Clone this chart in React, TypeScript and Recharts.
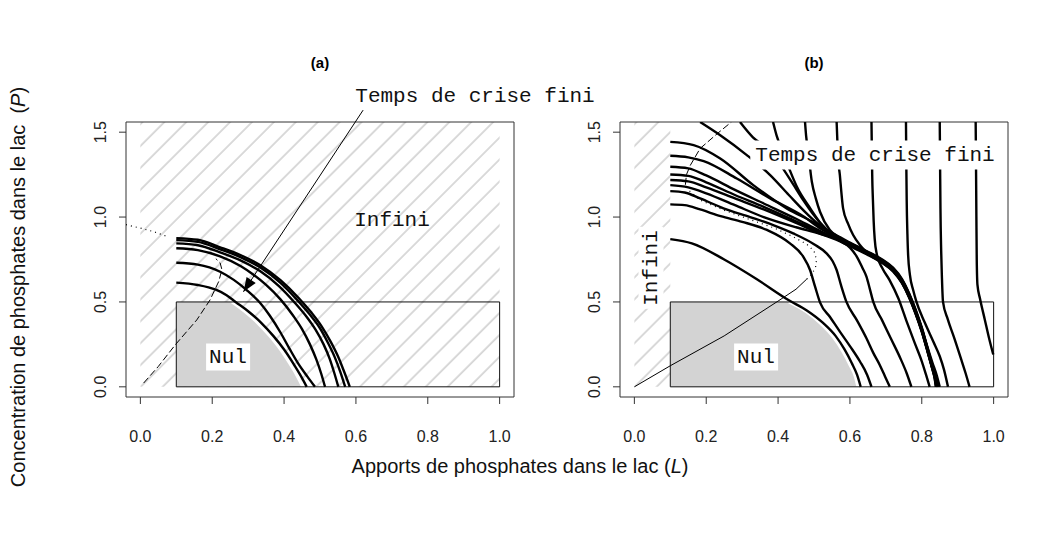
import { ComposedChart, Line, Area, XAxis, YAxis, ReferenceArea, ReferenceLine, ReferenceDot } from 'recharts';

// axes
const xTicks = [0, 0.2, 0.4, 0.6, 0.8, 1.0];
const yTicks = [0, 0.5, 1.0, 1.5];
const xDomain = [-0.04, 1.04];
const yDomain = [-0.06, 1.56];

// panel (a) : trajectoires (L, P)
const a1 = [[0.1, 0.876], [0.16, 0.866], [0.222, 0.822], [0.28, 0.775], [0.333, 0.718], [0.39, 0.628], [0.44, 0.525], [0.475, 0.44], [0.505, 0.355], [0.53, 0.265], [0.55, 0.18], [0.567, 0.09], [0.583, 0]];
const a2 = [[0.1, 0.864], [0.16, 0.854], [0.222, 0.81], [0.28, 0.763], [0.333, 0.704], [0.39, 0.612], [0.435, 0.515], [0.47, 0.43], [0.5, 0.345], [0.522, 0.26], [0.541, 0.175], [0.557, 0.085], [0.57, 0]];
const a3 = [[0.1, 0.845], [0.16, 0.834], [0.222, 0.792], [0.28, 0.743], [0.333, 0.682], [0.385, 0.595], [0.428, 0.5], [0.46, 0.42], [0.488, 0.335], [0.51, 0.25], [0.527, 0.165], [0.54, 0.08], [0.551, 0]];
const a4 = [[0.1, 0.816], [0.16, 0.805], [0.222, 0.768], [0.28, 0.71], [0.315, 0.66], [0.35, 0.6], [0.39, 0.515], [0.425, 0.42], [0.45, 0.34], [0.472, 0.25], [0.49, 0.16], [0.503, 0.08], [0.514, 0]];
const a5 = [[0.1, 0.731], [0.16, 0.72], [0.222, 0.678], [0.26, 0.63], [0.296, 0.57], [0.333, 0.495], [0.36, 0.42], [0.39, 0.32], [0.415, 0.225], [0.44, 0.135], [0.465, 0.06], [0.486, 0]];
const a6 = [[0.1, 0.614], [0.16, 0.6], [0.21, 0.572], [0.24, 0.54], [0.265, 0.5], [0.3, 0.445], [0.335, 0.38], [0.37, 0.3], [0.4, 0.22], [0.425, 0.14], [0.445, 0.07], [0.463, 0]];
const greyA = [[0.1, 0.5], [0.255, 0.5], [0.29, 0.445], [0.325, 0.38], [0.36, 0.3], [0.39, 0.22], [0.415, 0.14], [0.435, 0.07], [0.452, 0]];
const hatchA = [[0, 1.56], [1, 1.56]];
const dottedA = [[-0.04, 0.955], [0.0, 0.935], [0.04, 0.912], [0.075, 0.885]];
const dashedA = [[0.009, 0.022], [0.05, 0.12], [0.097, 0.247], [0.157, 0.394], [0.194, 0.512], [0.218, 0.62], [0.227, 0.69], [0.222, 0.73], [0.21, 0.755]];
const arrowA = [{ x: 0.62, y: 1.63 }, { x: 0.287, y: 0.56 }];

// panel (b)
const b1 = [[0.1, 0.87], [0.16, 0.845], [0.25, 0.75], [0.34, 0.635], [0.43, 0.51], [0.48, 0.45], [0.526, 0.375], [0.56, 0.3], [0.585, 0.22], [0.605, 0.14], [0.62, 0.07], [0.63, 0]];
const b2 = [[0.1, 1.075], [0.14, 1.07], [0.183, 1.045], [0.24, 1.005], [0.3, 0.972], [0.369, 0.924], [0.433, 0.845], [0.47, 0.767], [0.489, 0.688], [0.503, 0.59], [0.517, 0.496], [0.545, 0.41], [0.572, 0.325], [0.6, 0.24], [0.628, 0.149], [0.648, 0.07], [0.66, 0]];
const b3 = [[0.1, 1.153], [0.14, 1.145], [0.183, 1.11], [0.25, 1.05], [0.322, 1.0], [0.39, 0.95], [0.442, 0.904], [0.5, 0.84], [0.535, 0.786], [0.552, 0.74], [0.563, 0.688], [0.575, 0.6], [0.59, 0.502], [0.62, 0.39], [0.646, 0.286], [0.665, 0.2], [0.683, 0.129], [0.698, 0.06], [0.711, 0]];
const b4 = [[0.1, 1.188], [0.15, 1.175], [0.2, 1.14], [0.28, 1.07], [0.36, 1.0], [0.45, 0.94], [0.52, 0.9], [0.572, 0.86], [0.6, 0.82], [0.619, 0.767], [0.635, 0.7], [0.646, 0.649], [0.655, 0.58], [0.665, 0.5], [0.69, 0.39], [0.715, 0.28], [0.74, 0.17], [0.758, 0.08], [0.771, 0]];
const b5 = [[0.1, 1.218], [0.15, 1.21], [0.2, 1.175], [0.28, 1.11], [0.36, 1.045], [0.45, 0.965], [0.52, 0.9], [0.56, 0.868], [0.6, 0.828], [0.646, 0.782], [0.69, 0.73], [0.72, 0.68], [0.745, 0.61], [0.765, 0.525], [0.782, 0.435], [0.8, 0.325], [0.815, 0.215], [0.828, 0.115], [0.836, 0.05], [0.84, 0]];
const b6 = [[0.1, 1.251], [0.15, 1.243], [0.2, 1.205], [0.28, 1.13], [0.36, 1.06], [0.45, 0.975], [0.52, 0.908], [0.56, 0.874], [0.6, 0.832], [0.646, 0.786], [0.69, 0.735], [0.72, 0.685], [0.745, 0.615], [0.765, 0.53], [0.782, 0.44], [0.8, 0.33], [0.815, 0.22], [0.828, 0.12], [0.837, 0.05], [0.842, 0]];
const b7 = [[0.1, 1.296], [0.15, 1.287], [0.2, 1.245], [0.28, 1.16], [0.36, 1.08], [0.45, 0.99], [0.52, 0.915], [0.56, 0.878], [0.6, 0.836], [0.646, 0.79], [0.69, 0.738], [0.72, 0.69], [0.745, 0.62], [0.765, 0.535], [0.782, 0.445], [0.8, 0.335], [0.815, 0.225], [0.828, 0.125], [0.838, 0.055], [0.844, 0]];
const b8 = [[0.1, 1.361], [0.15, 1.352], [0.193, 1.33], [0.285, 1.227], [0.378, 1.11], [0.47, 1.005], [0.52, 0.93], [0.56, 0.884], [0.6, 0.84], [0.646, 0.793], [0.69, 0.742], [0.72, 0.694], [0.745, 0.625], [0.765, 0.54], [0.782, 0.45], [0.8, 0.34], [0.815, 0.23], [0.828, 0.13], [0.839, 0.06], [0.846, 0]];
const b9 = [[0.1, 1.443], [0.165, 1.424], [0.239, 1.345], [0.331, 1.188], [0.424, 1.051], [0.507, 0.96], [0.56, 0.89], [0.6, 0.846], [0.646, 0.797], [0.69, 0.746], [0.72, 0.698], [0.745, 0.63], [0.765, 0.545], [0.782, 0.455], [0.8, 0.345], [0.815, 0.235], [0.828, 0.135], [0.84, 0.065], [0.848, 0]];
const t183 = [[0.183, 1.56], [0.239, 1.482], [0.313, 1.365], [0.378, 1.247], [0.43, 1.13], [0.48, 1.02], [0.52, 0.945], [0.56, 0.895], [0.6, 0.85], [0.646, 0.8], [0.69, 0.75], [0.72, 0.702], [0.745, 0.635], [0.765, 0.55], [0.782, 0.46], [0.8, 0.35], [0.815, 0.24], [0.83, 0.14], [0.842, 0.065], [0.85, 0]];
const t294 = [[0.294, 1.56], [0.33, 1.47], [0.37, 1.404], [0.407, 1.306], [0.44, 1.2], [0.47, 1.1], [0.5, 1.01], [0.53, 0.935], [0.56, 0.89], [0.6, 0.843], [0.646, 0.795], [0.69, 0.744], [0.72, 0.696], [0.745, 0.627], [0.765, 0.542], [0.782, 0.452], [0.8, 0.342], [0.815, 0.232], [0.829, 0.132], [0.84, 0.06], [0.847, 0]];
const t386 = [[0.386, 1.56], [0.396, 1.48], [0.41, 1.4], [0.43, 1.29], [0.452, 1.18], [0.49, 1.05], [0.52, 0.96], [0.55, 0.9], [0.58, 0.865], [0.62, 0.823], [0.66, 0.78], [0.69, 0.74], [0.72, 0.692], [0.745, 0.622], [0.765, 0.537], [0.782, 0.447], [0.8, 0.337], [0.815, 0.227], [0.828, 0.127], [0.838, 0.055], [0.845, 0]];
const t475 = [[0.475, 1.56], [0.478, 1.48], [0.483, 1.4], [0.494, 1.208], [0.505, 1.11], [0.517, 1.03], [0.544, 0.924], [0.57, 0.88], [0.6, 0.838], [0.646, 0.788], [0.69, 0.737], [0.72, 0.687], [0.745, 0.617], [0.765, 0.532], [0.782, 0.442], [0.8, 0.332], [0.815, 0.222], [0.828, 0.122], [0.837, 0.052], [0.841, 0]];
const t563 = [[0.563, 1.56], [0.565, 1.45], [0.567, 1.35], [0.572, 1.247], [0.576, 1.15], [0.581, 1.051], [0.595, 0.96], [0.609, 0.894], [0.63, 0.83], [0.655, 0.776], [0.69, 0.732], [0.72, 0.682], [0.745, 0.612], [0.765, 0.527], [0.782, 0.437], [0.8, 0.327], [0.815, 0.217], [0.828, 0.117], [0.836, 0.048], [0.839, 0]];
const t660 = [[0.66, 1.56], [0.661, 1.4], [0.662, 1.25], [0.664, 1.1], [0.666, 0.98], [0.669, 0.87], [0.675, 0.78], [0.69, 0.7], [0.71, 0.63], [0.735, 0.52], [0.757, 0.39], [0.78, 0.26], [0.8, 0.15], [0.812, 0.07], [0.822, 0]];
const t756 = [[0.756, 1.56], [0.757, 1.3], [0.758, 1.1], [0.76, 0.9], [0.762, 0.776], [0.767, 0.66], [0.776, 0.57], [0.785, 0.502], [0.808, 0.38], [0.832, 0.267], [0.85, 0.18], [0.862, 0.1], [0.873, 0]];
const t850 = [[0.85, 1.56], [0.851, 1.3], [0.852, 1.05], [0.854, 0.8], [0.856, 0.65], [0.859, 0.502], [0.872, 0.4], [0.89, 0.29], [0.91, 0.16], [0.922, 0.08], [0.933, 0]];
const t950 = [[0.95, 1.56], [0.951, 1.3], [0.952, 1.0], [0.953, 0.75], [0.955, 0.6], [0.962, 0.52], [0.975, 0.4], [0.988, 0.28], [0.999, 0.19]];
const greyB = [[0.1, 0.5], [0.43, 0.5], [0.48, 0.44], [0.52, 0.37], [0.555, 0.29], [0.58, 0.21], [0.6, 0.13], [0.615, 0.06], [0.622, 0]];
const hatchB = [[0, 1.56], [0.1, 1.56]];
const foldSolidB = [[0, 0], [0.1, 0.124], [0.25, 0.3], [0.4, 0.505], [0.45, 0.575], [0.48, 0.635]];
const foldDottedB = [[0.48, 0.635], [0.495, 0.665], [0.505, 0.71], [0.507, 0.75], [0.5, 0.8], [0.48, 0.84], [0.442, 0.884], [0.39, 0.935], [0.322, 0.985], [0.25, 1.04], [0.183, 1.1], [0.15, 1.16]];
const foldDashedB = [[0.142, 1.19], [0.145, 1.25], [0.156, 1.306], [0.183, 1.404], [0.23, 1.49], [0.27, 1.56]];

const rectNul = [[0.1, 0], [0.1, 0.5], [1, 0.5], [1, 0], [0.1, 0]];

const curvesA = [a1, a2, a3, a4, a5, a6];
const curvesB = [b1, b2, b3, b4, b5, b6, b7, b8, b9, t183, t294, t386, t475, t563, t660, t756, t850, t950];

const pts = (a: number[][]) => a.map(([x, y]) => ({ x, y }));

const TICK_FONT = "'Liberation Sans Narrow', 'Liberation Sans', Arial, sans-serif";
const MONO = "'Liberation Mono', 'DejaVu Sans Mono', monospace";

const XTick = (props: any) => {
  const { x, y, payload } = props;
  return (
    <text x={x} y={y + 36} textAnchor="middle" fontFamily={TICK_FONT} fontSize={16} fill="#222">
      {Number(payload.value).toFixed(1)}
    </text>
  );
};

const YTick = (props: any) => {
  const { x, y, payload } = props;
  const cx = x - 16;
  return (
    <text x={cx} y={y} transform={`rotate(-90, ${cx}, ${y})`} textAnchor="middle" dominantBaseline="central"
      fontFamily={TICK_FONT} fontSize={16} fill="#222">
      {Number(payload.value).toFixed(1)}
    </text>
  );
};

const ArrowHead = (props: any) => {
  const { cx, cy } = props;
  return <polygon points="0,0 -14,-5.5 -14,5.5" transform={`translate(${cx},${cy}) rotate(123.4)`} fill="#000" />;
};

function Panel({ which }: { which: 'a' | 'b' }) {
  const isA = which === 'a';
  const pid = `hatch-${which}`;
  const curves = isA ? curvesA : curvesB;
  return (
    <ComposedChart width={530} height={550} margin={{ top: 122, right: 16, bottom: 113, left: 0 }}>
      <defs>
        <pattern id={pid} patternUnits="userSpaceOnUse" width="15.5" height="15.5" patternTransform="rotate(45)">
          <line x1="1" y1="0" x2="1" y2="15.5" stroke="#b4b4b4" strokeWidth="1" />
        </pattern>
      </defs>
      <XAxis dataKey="x" type="number" domain={xDomain} ticks={xTicks} allowDataOverflow interval={0}
        height={40} tickSize={7} tickMargin={2} axisLine={false} tickLine={{ stroke: '#333' }} tick={<XTick />} />
      <YAxis dataKey="y" type="number" domain={yDomain} ticks={yTicks} allowDataOverflow
        width={126} tickSize={7} tickMargin={2} axisLine={false} tickLine={{ stroke: '#333' }} tick={<YTick />} />
      <Area data={pts(isA ? hatchA : hatchB)} dataKey="y" type="linear" baseValue={0} stroke="none"
        fill={`url(#${pid})`} fillOpacity={1} isAnimationActive={false} />
      <Area data={pts(isA ? greyA : greyB)} dataKey="y" type="monotone" baseValue={0} stroke="none"
        fill="#d3d3d3" fillOpacity={1} isAnimationActive={false} />
      <ReferenceArea x1={-0.04} x2={1.04} y1={-0.06} y2={1.56} fill="none" stroke="#333" strokeWidth={1} ifOverflow="visible" />
      <Line data={pts((isA ? greyA : greyB).slice(1))} dataKey="y" type="monotone" stroke="#fff" strokeWidth={3}
        dot={false} activeDot={false} isAnimationActive={false} />
      <Line data={pts(rectNul)} dataKey="y" type="linear" stroke="#111" strokeWidth={1}
        dot={false} activeDot={false} isAnimationActive={false} />
      {curves.map((c, i) => (
        <Line key={i} data={pts(c)} dataKey="y" type="monotone" stroke="#000" strokeWidth={2.4}
          dot={false} activeDot={false} isAnimationActive={false} />
      ))}
      {isA ? (
        <>
          <Line data={pts(dottedA)} dataKey="y" type="linear" stroke="#000" strokeWidth={1.2} strokeDasharray="1 4"
            dot={false} activeDot={false} isAnimationActive={false} />
          <Line data={pts(dashedA)} dataKey="y" type="linear" stroke="#000" strokeWidth={1} strokeDasharray="7 3"
            dot={false} activeDot={false} isAnimationActive={false} />
          <ReferenceLine segment={arrowA} stroke="#000" strokeWidth={1} ifOverflow="visible" />
          <ReferenceDot x={arrowA[1].x} y={arrowA[1].y} r={1} ifOverflow="visible" shape={<ArrowHead />} />
        </>
      ) : (
        <>
          <Line data={pts(foldSolidB)} dataKey="y" type="linear" stroke="#000" strokeWidth={1}
            dot={false} activeDot={false} isAnimationActive={false} />
          <Line data={pts(foldDottedB)} dataKey="y" type="linear" stroke="#000" strokeWidth={1.2} strokeDasharray="1 4"
            dot={false} activeDot={false} isAnimationActive={false} />
          <Line data={pts(foldDashedB)} dataKey="y" type="linear" stroke="#000" strokeWidth={1} strokeDasharray="7 3"
            dot={false} activeDot={false} isAnimationActive={false} />
        </>
      )}
    </ComposedChart>
  );
}

const boxed: any = { position: 'absolute', transform: 'translate(-50%, -50%)', fontFamily: MONO, fontSize: 21, lineHeight: 1, whiteSpace: 'nowrap', color: '#111' };
const titleStyle: any = { position: 'absolute', top: 62, transform: 'translate(-50%, -50%)', fontFamily: "'Liberation Sans', Arial, sans-serif", fontWeight: 'bold', fontSize: 15 };

export default function App() {
  return (
    <div style={{ position: 'absolute', left: 0, top: 0, width: 1037, height: 550, background: '#fff', overflow: 'hidden' }}>
      <div style={{ position: 'absolute', left: 0, top: 0 }}>
        <Panel which="a" />
      </div>
      <div style={{ position: 'absolute', left: 494, top: 0 }}>
        <Panel which="b" />
      </div>

      <div style={{ ...titleStyle, left: 320 }}>(a)</div>
      <div style={{ ...titleStyle, left: 814 }}>(b)</div>

      <div style={{ ...boxed, left: 475, top: 96, background: '#fff', padding: '3px 4px' }}>Temps de crise fini</div>
      <div style={{ ...boxed, left: 392, top: 220 }}>Infini</div>
      <div style={{ ...boxed, left: 228, top: 357, background: '#fff', padding: '3px 3px' }}>Nul</div>

      <div style={{ ...boxed, left: 875, top: 155, background: '#fff', padding: '4px 5px' }}>Temps de crise fini</div>
      <div style={{ ...boxed, left: 651, top: 268, background: '#fff', padding: '2px 3px', transform: 'translate(-50%, -50%) rotate(-90deg)' }}>Infini</div>
      <div style={{ ...boxed, left: 756, top: 357, background: '#fff', padding: '3px 3px' }}>Nul</div>

      <div style={{ position: 'absolute', left: 520, top: 466, transform: 'translate(-50%, -50%)', fontFamily: TICK_FONT, fontSize: 20, whiteSpace: 'nowrap', color: '#111' }}>
        Apports de phosphates dans le lac (<i>L</i>)
      </div>
      <div style={{ position: 'absolute', left: 18, top: 287, transform: 'translate(-50%, -50%) rotate(-90deg)', fontFamily: "'Liberation Sans', Arial, sans-serif", fontSize: 20, whiteSpace: 'nowrap', color: '#111' }}>
        Concentration de phosphates dans le lac&nbsp; (<i>P</i>)
      </div>
    </div>
  );
}
